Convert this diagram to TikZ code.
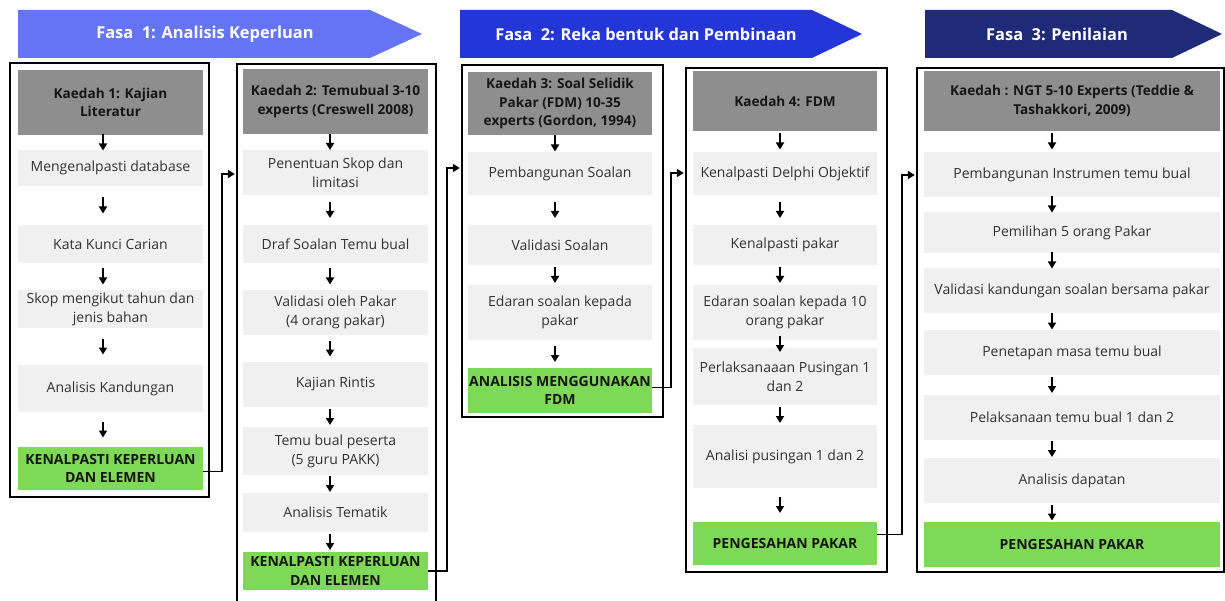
\documentclass[tikz,border=0pt]{standalone}
\usepackage{fontspec}
\setmainfont{Open Sans}
\usetikzlibrary{arrows.meta,calc}
\definecolor{banA}{HTML}{6573F5}
\definecolor{banB}{HTML}{2436D8}
\definecolor{banC}{HTML}{1F2B78}
\definecolor{hdr}{HTML}{8E8E8E}
\definecolor{lite}{HTML}{F0F0F0}
\definecolor{grn}{HTML}{7ED957}
\definecolor{txt}{HTML}{333333}
\definecolor{dark}{HTML}{161616}
\newcommand\bx[7]{\node[#6, minimum width={#4pt-#2pt}, minimum height={#5pt-#3pt}] (#1) at ({(#2+#4)/2},{(#3+#5)/2}) {#7};}
\newcommand\arr[3]{\coordinate (tmpm) at ($(#1.south -| #3)!0.5!(#2.north -| #3)$);
  \draw[flow] ($(tmpm)+(0,-8)$) -- ($(tmpm)+(0,8)$);}
\begin{document}
\begin{tikzpicture}[x=1pt,y=-1pt,
  hdrbox/.style={fill=hdr, text=dark, font=\bfseries\fontsize{13.6}{18.5}\selectfont, align=center, inner sep=0pt},
  litebox/.style={fill=lite, text=txt, font=\fontsize{14}{19}\selectfont, align=center, inner sep=0pt},
  grnbox/.style={fill=grn, text=dark, font=\bfseries\fontsize{14}{18.5}\selectfont, align=center, inner sep=0pt},
  outerbox/.style={draw=black, line width=2.4pt, inner sep=0pt},
  flow/.style={-{Triangle[length=7pt,width=8pt]}, line width=1.7pt, black},
  conn/.style={-{Triangle[length=7pt,width=8pt]}, line width=1.8pt, black, shorten >=1pt},
  bantext/.style={text=white, font=\bfseries\fontsize{16.4}{18}\selectfont, inner sep=0pt}]
\useasboundingbox (0,0) rectangle (1225,601);

% banners
\fill[banA] (18,10) -- (370,10) -- (422,34) -- (370,58) -- (18,58) -- cycle;
\fill[banB] (460,10) -- (812,10) -- (862,34) -- (812,58) -- (460,58) -- cycle;
\fill[banC] (925,10) -- (1172,10) -- (1222,34) -- (1172,58) -- (925,58) -- cycle;
\node[bantext] (t1) at (205,34) {Fasa\ \ 1: Analisis Keperluan};
\node[bantext] (t2) at (646,34) {Fasa\ \ 2: Reka bentuk dan Pembinaan};
\node[bantext] (t3) at (1057,34) {Fasa\ \ 3: Penilaian};

% column 1
\bx{o1}{10}{63}{209}{497}{outerbox}{}
\bx{h1}{18}{70}{203}{135}{hdrbox}{Kaedah 1: Kajian\\Literatur}
\bx{a1}{18}{150}{203}{186}{litebox}{Mengenalpasti database}
\bx{a2}{18}{225}{203}{263}{litebox}{Kata Kunci Carian}
\bx{a3}{18}{290}{203}{328}{litebox}{Skop mengikut tahun dan\\jenis bahan}
\bx{a4}{18}{365}{203}{412}{litebox}{Analisis Kandungan}
\bx{g1}{18}{447}{203}{490}{grnbox}{KENALPASTI KEPERLUAN\\DAN ELEMEN}

% column 2
\bx{o2}{237}{64}{436}{608}{outerbox}{}
\bx{h2}{243}{69}{428}{134}{hdrbox}{Kaedah 2: Temubual 3-10\\experts (Creswell 2008)}
\bx{b1}{243}{150}{428}{195}{litebox}{Penentuan Skop dan\\limitasi}
\bx{b2}{243}{225}{428}{263}{litebox}{Draf Soalan Temu bual}
\bx{b3}{243}{290}{428}{335}{litebox}{Validasi oleh Pakar\\(4 orang pakar)}
\bx{b4}{243}{362}{428}{407}{litebox}{Kajian Rintis}
\bx{b5}{243}{427}{428}{475}{litebox}{Temu bual peserta\\(5 guru PAKK)}
\bx{b6}{243}{493}{428}{532}{litebox}{Analisis Tematik}
\bx{g2}{243}{552}{428}{590}{grnbox}{KENALPASTI KEPERLUAN\\DAN ELEMEN}

% column 3
\bx{o3}{462}{65}{663}{417}{outerbox}{}
\bx{h3}{468}{72}{652}{135}{hdrbox}{Kaedah 3: Soal Selidik\\Pakar (FDM) 10-35\\experts (Gordon, 1994)}
\bx{c1}{468}{152}{652}{195}{litebox}{Pembangunan Soalan}
\bx{c2}{468}{225}{652}{265}{litebox}{Validasi Soalan}
\bx{c3}{468}{285}{652}{340}{litebox}{Edaran soalan kepada\\pakar}
\bx{g3}{468}{368}{652}{413}{grnbox}{ANALISIS MENGGUNAKAN\\FDM}

% column 4
\bx{o4}{686}{68}{887}{572}{outerbox}{}
\bx{h4}{693}{71}{877}{131}{hdrbox}{Kaedah 4: FDM}
\bx{d1}{693}{152}{877}{195}{litebox}{Kenalpasti Delphi Objektif}
\bx{d2}{693}{225}{877}{265}{litebox}{Kenalpasti pakar}
\bx{d3}{693}{285}{877}{340}{litebox}{Edaran soalan kepada 10\\orang pakar}
\bx{d4}{693}{348}{877}{405}{litebox}{Perlaksanaaan Pusingan 1\\dan 2}
\bx{d5}{693}{425}{877}{488}{litebox}{Analisi pusingan 1 dan 2}
\bx{g4}{693}{522}{877}{565}{grnbox}{PENGESAHAN PAKAR}

% column 5
\bx{o5}{917}{68}{1224}{572}{outerbox}{}
\bx{h5}{924}{71}{1220}{131}{hdrbox}{Kaedah : NGT 5-10 Experts (Teddie \&\\Tashakkori, 2009)}
\bx{e1}{924}{152}{1220}{197}{litebox}{Pembangunan Instrumen temu bual}
\bx{e2}{924}{212}{1220}{253}{litebox}{Pemilihan 5 orang Pakar}
\bx{e3}{924}{268}{1220}{313}{litebox}{Validasi kandungan soalan bersama pakar}
\bx{e4}{924}{330}{1220}{375}{litebox}{Penetapan masa temu bual}
\bx{e5}{924}{395}{1220}{440}{litebox}{Pelaksanaan temu bual 1 dan 2}
\bx{e6}{924}{458}{1220}{503}{litebox}{Analisis dapatan}
\bx{g5}{924}{522}{1220}{567}{grnbox}{PENGESAHAN PAKAR}

% arrow columns
\coordinate (ax1) at (103,0);
\coordinate (ax2) at (330,0);
\coordinate (ax3) at (555,0);
\coordinate (ax4) at (780,0);
\coordinate (ax5) at (1052,0);

\arr{h1}{a1}{ax1}\arr{a1}{a2}{ax1}\arr{a2}{a3}{ax1}\arr{a3}{a4}{ax1}\arr{a4}{g1}{ax1}
\arr{h2}{b1}{ax2}\arr{b1}{b2}{ax2}\arr{b2}{b3}{ax2}\arr{b3}{b4}{ax2}\arr{b4}{b5}{ax2}\arr{b5}{b6}{ax2}\arr{b6}{g2}{ax2}
\arr{h3}{c1}{ax3}\arr{c1}{c2}{ax3}\arr{c2}{c3}{ax3}\arr{c3}{g3}{ax3}
\arr{h4}{d1}{ax4}\arr{d1}{d2}{ax4}\arr{d2}{d3}{ax4}\arr{d3}{d4}{ax4}\arr{d4}{d5}{ax4}\arr{d5}{g4}{ax4}
\arr{h5}{e1}{ax5}\arr{e1}{e2}{ax5}\arr{e2}{e3}{ax5}\arr{e3}{e4}{ax5}\arr{e4}{e5}{ax5}\arr{e5}{e6}{ax5}\arr{e6}{g5}{ax5}

% connectors between columns
\coordinate (j1) at (222,174);
\coordinate (j2) at (447,168);
\coordinate (j3) at (671,173);
\coordinate (j4) at (902,175);
\draw[conn] ($(g1.east)+(0,3)$) -| (j1) -- (j1 -| o2.west);
\draw[conn] (g2.east) -| (j2) -- (j2 -| o3.west);
\draw[conn] ($(g3.east)+(0,-3)$) -| (j3) -- (j3 -| o4.west);
\draw[conn] ($(g4.east)+(0,-9)$) -| (j4) -- (j4 -| o5.west);
\end{tikzpicture}
\end{document}
